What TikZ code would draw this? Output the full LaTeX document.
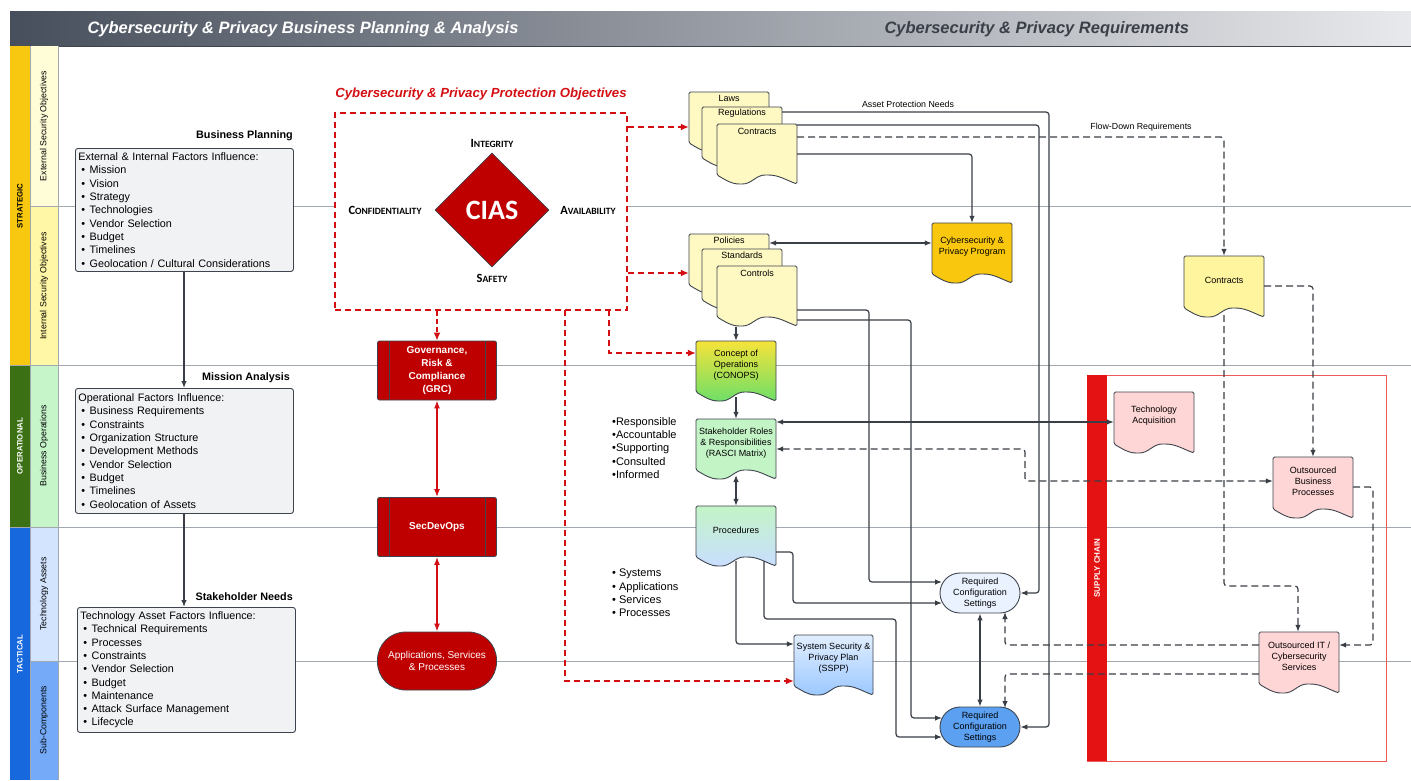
\documentclass[tikz,border=0pt]{standalone}
\usepackage{fontspec}
\setmainfont{Liberation Sans}
\newfontfamily\hdrfont{Liberation Sans}
\newfontfamily\calfont{Carlito}
\usetikzlibrary{arrows.meta,calc,shapes.geometric}
\definecolor{hdrdark}{HTML}{474F5C}
\definecolor{hdrlight}{HTML}{E8E9EC}
\definecolor{strat}{HTML}{F7C80F}
\definecolor{extl}{HTML}{FFFCD8}
\definecolor{intl}{HTML}{FFF6A6}
\definecolor{oper}{HTML}{3C7015}
\definecolor{operl}{HTML}{C6F5CA}
\definecolor{tact}{HTML}{1668DC}
\definecolor{techl}{HTML}{D3E4FF}
\definecolor{subl}{HTML}{74AAF8}
\definecolor{hline}{HTML}{A2A8B0}
\definecolor{dline}{HTML}{3E444E}
\definecolor{connc}{HTML}{3A3F47}
\definecolor{cred}{HTML}{D40F14}
\definecolor{ciasred}{HTML}{BF0000}
\definecolor{boxfill}{HTML}{F1F2F4}
\definecolor{docyel}{HTML}{FEF8C2}
\definecolor{docyel2}{HTML}{FFF59E}
\definecolor{progyel}{HTML}{F9C80E}
\definecolor{docpink}{HTML}{FFD6D6}
\definecolor{stkgreen}{HTML}{C3F4C6}
\definecolor{conyel}{HTML}{F6E33A}
\definecolor{congreen}{HTML}{6EDF68}
\definecolor{procblue}{HTML}{C9DEFF}
\definecolor{ssptop}{HTML}{E1EEFF}
\definecolor{sspbot}{HTML}{9CC8FF}
\definecolor{rcsa}{HTML}{EBF2FF}
\definecolor{rcsb}{HTML}{5CA0F1}
\definecolor{scred}{HTML}{E41212}
\definecolor{scline}{HTML}{EC5A5A}
\definecolor{hdrtxt}{HTML}{3A3F48}
\newcommand\bl{\hspace*{3pt}\textbullet\hspace{4.5pt}}
\newcommand\fsc[2]{{\fontsize{12.5}{14}\selectfont #1}{\fontsize{9.6}{14}\selectfont #2}}
% name, x, y, w, h, fill options, text dy, text
\newcommand\docshape[8]{%
  \path[docline,#6] (#2,{#3+#5-9}) -- (#2,#3) -- ({#2+#4},#3) -- ({#2+#4},{#3+#5})
     to[out=160,in=0] ({#2+0.62*#4},{#3+#5-9})
     to[out=180,in=0] ({#2+0.3*#4},{#3+#5})
     to[out=180,in=-30] cycle;
  \node[inner sep=0, minimum width=#4pt, minimum height=#5pt] (#1) at ({#2+#4/2},{#3+#5/2}) {};
  \node[doctext] (#1-t) at ({#2+#4/2},{#3+#7}) {#8};
}
\begin{document}
\begin{tikzpicture}[x=1pt,y=-1pt,
  hl/.style={draw=hline, line width=1},
  conn/.style={draw=connc, line width=1.2, rounded corners=3, -{Latex[length=7pt,width=5.5pt]}},
  biconn/.style={conn, {Latex[length=7pt,width=5.5pt]}-{Latex[length=7pt,width=5.5pt]}},
  dconn/.style={conn, dash pattern=on 7pt off 4pt},
  bidconn/.style={biconn, dash pattern=on 7pt off 4pt},
  rconn/.style={draw=cred, line width=1.9, dash pattern=on 6pt off 4pt, -{Latex[length=8pt,width=7pt]}},
  rbi/.style={draw=cred, line width=1.5, {Latex[length=8pt,width=6pt]}-{Latex[length=8pt,width=6pt]}},
  docline/.style={draw=dline, line width=0.9, rounded corners=1.5},
  doctext/.style={font=\fontsize{9}{10.8}\selectfont, align=center, inner sep=0},
  factor/.style={draw=dline, fill=boxfill, rounded corners=2.5, line width=0.9, align=left, inner sep=3pt, font=\fontsize{10.8}{13.3}\selectfont},
  blabel/.style={font=\bfseries\fontsize{10.8}{12}\selectfont, anchor=east, inner sep=0},
  proc/.style={draw=dline, fill=ciasred, rounded corners=2, minimum width=119pt, minimum height=59pt, text=white, align=center, font=\bfseries\fontsize{10}{12.8}\selectfont, line width=0.8},
  side/.style={rotate=90, font=\fontsize{8.8}{10}\selectfont},
  sideb/.style={rotate=90, font=\bfseries\fontsize{7.8}{9}\selectfont},
  lbl/.style={font=\fontsize{8.8}{10}\selectfont, inner sep=0},
  stad/.style={draw=dline, line width=0.9, rounded corners=20pt, minimum width=80pt, minimum height=40pt, doctext}
]
\useasboundingbox (0,0) rectangle (1411,780);
\fill[white] (0,0) rectangle (1411,780);
% header
\shade[left color=hdrdark, right color=hdrlight] (10,11) rectangle (1411,46);
\draw[dline, line width=1] (10,46) -- (1411,46);
\node[anchor=west, text=white, font=\hdrfont\bfseries\itshape\fontsize{16.5}{18}\selectfont] (h1) at (84,29) {Cybersecurity \& Privacy Business Planning \& Analysis};
\node[anchor=west, text=hdrtxt, font=\hdrfont\bfseries\itshape\fontsize{16.5}{18}\selectfont] (h2) at (881,29) {Cybersecurity \& Privacy Requirements};
% side columns
\fill[strat] (10,46) rectangle (30,365);
\fill[extl] (30,46) rectangle (58,206);
\fill[intl] (30,206) rectangle (58,365);
\fill[oper] (10,365) rectangle (30,527);
\fill[operl] (30,365) rectangle (58,527);
\fill[tact] (10,527) rectangle (30,780);
\fill[techl] (30,527) rectangle (58,661);
\fill[subl] (30,661) rectangle (58,780);
\draw[hline, line width=0.7] (30,46) -- (30,780) (58,46) -- (58,780) (30,206) -- (58,206) (10,365) -- (58,365) (10,527) -- (58,527) (30,661) -- (58,661);
\node[sideb] at (20,206) {STRATEGIC};
\node[sideb, text=white] at (20,446) {OPERATIONAL};
\node[sideb, text=white] at (20,654) {TACTICAL};
\node[side] at (44,126) {External Security Objectives};
\node[side] at (44,286) {Internal Security Objectives};
\node[side] at (44,446) {Business Operations};
\node[side] at (44,594) {Technology Assets};
\node[side] at (44,720) {Sub-Components};
% lane lines
\foreach \yy in {206,365,527,661} \draw[hl] (58,\yy) -- (1411,\yy);
% supply chain
\draw[scline, line width=1] (1087,375) rectangle (1386,761);
\fill[scred] (1087,375) rectangle (1107,761);
\node[rotate=90, text=white, font=\bfseries\fontsize{8}{9}\selectfont] (sc) at (1097,568) {SUPPLY CHAIN};
% left factor boxes
\node[blabel] (bpl) at (293,136) {Business Planning};
\node[factor, anchor=north west, text width=212pt, minimum height=123pt] (bp) at (75,148) {External \& Internal Factors Influence:\\ \bl Mission\\ \bl Vision\\ \bl Strategy\\ \bl Technologies\\ \bl Vendor Selection\\ \bl Budget\\ \bl Timelines\\ \bl Geolocation / Cultural Considerations};
\node[blabel] (mal) at (290,378) {Mission Analysis};
\node[factor, anchor=north west, text width=212pt, minimum height=125pt] (ma) at (75,388) {Operational Factors Influence:\\ \bl Business Requirements\\ \bl Constraints\\ \bl Organization Structure\\ \bl Development Methods\\ \bl Vendor Selection\\ \bl Budget\\ \bl Timelines\\ \bl Geolocation of Assets};
\node[blabel] (snl) at (293,597) {Stakeholder Needs};
\node[factor, anchor=north west, text width=212pt, minimum height=125pt] (sn) at (77,607) {Technology Asset Factors Influence:\\ \bl Technical Requirements\\ \bl Processes\\ \bl Constraints\\ \bl Vendor Selection\\ \bl Budget\\ \bl Maintenance\\ \bl Attack Surface Management\\ \bl Lifecycle};
\draw[conn] (bp.south -| 184,0) -- (ma.north -| 184,0);
\draw[conn] (ma.south -| 184,0) -- (sn.north -| 184,0);
% objectives
\node[text=cred, font=\bfseries\itshape\fontsize{13.2}{15}\selectfont] (objt) at (481,94) {Cybersecurity \& Privacy Protection Objectives};
\node[draw=cred, fill=white, line width=1.9, dash pattern=on 6pt off 4pt, minimum width=292pt, minimum height=197pt, inner sep=0] (obj) at (481,211.5) {};
\node[diamond, fill=ciasred, draw=dline, line width=0.6, minimum width=114pt, minimum height=114pt, inner sep=0, text=white, font=\calfont\bfseries\fontsize{28}{28}\selectfont] (cias) at (492,210) {CIAS};
\node[font=\calfont\bfseries] (ci) at (492,143) {\fsc{I}{NTEGRITY}};
\node[font=\calfont\bfseries] (cc) at (385,210) {\fsc{C}{ONFIDENTIALITY}};
\node[font=\calfont\bfseries] (ca) at (588,210) {\fsc{A}{VAILABILITY}};
\node[font=\calfont\bfseries] (cs) at (492,278) {\fsc{S}{AFETY}};
% red process boxes
\node[proc] (grc) at (437,370.5) {Governance,\\Risk \&\\Compliance\\(GRC)};
\node[proc] (sdo) at (437,527) {SecDevOps};
\foreach \n in {grc,sdo} {
  \draw[dline, line width=0.8] ($(\n.north west)+(12,0)$) -- ($(\n.south west)+(12,0)$);
  \draw[dline, line width=0.8] ($(\n.north east)+(-12,0)$) -- ($(\n.south east)+(-12,0)$);
}
\node[draw=dline, fill=ciasred, rounded corners=28pt, minimum width=119pt, minimum height=58pt, text=white, align=center, font=\fontsize{10}{12.8}\selectfont, line width=0.8] (apps) at (437,661) {Applications, Services\\\& Processes};
\draw[rconn, dash pattern=on 5pt off 3pt] (grc.north |- obj.south) -- (grc.north);
\draw[rbi] (grc.south) -- (sdo.north);
\draw[rbi] (sdo.south) -- (apps.north);
% documents
\docshape{laws}{689}{92}{80}{60}{fill=docyel}{6}{Laws}
\docshape{regs}{702}{107}{80}{60}{fill=docyel}{6}{Regulations}
\docshape{ctr}{717}{124}{80}{60}{fill=docyel}{7}{Contracts}
\docshape{pol}{689}{234}{80}{60}{fill=docyel}{6}{Policies}
\docshape{std}{702}{249}{80}{60}{fill=docyel}{6}{Standards}
\docshape{ctl}{717}{266}{80}{60}{fill=docyel}{7}{Controls}
\docshape{prog}{932}{223}{80}{60}{fill=progyel}{24}{Cybersecurity \&\\Privacy Program}
\docshape{conops}{696}{341}{80}{60}{top color=conyel, bottom color=congreen}{24}{Concept of\\Operations\\(CONOPS)}
\docshape{stk}{696}{419}{80}{60}{fill=stkgreen}{24}{Stakeholder Roles\\\& Responsibilities\\(RASCI Matrix)}
\docshape{proc}{696}{506}{80}{60}{top color=stkgreen, bottom color=procblue}{24}{Procedures}
\docshape{sspp}{794}{635}{79}{60}{top color=ssptop, bottom color=sspbot}{23}{System Security \&\\Privacy Plan\\(SSPP)}
\docshape{crt}{1184}{256}{80}{61}{fill=docyel2}{24}{Contracts}
\docshape{tacq}{1114}{392}{80}{61}{fill=docpink}{24}{Technology\\Acquisition}
\docshape{obp}{1273}{457}{80}{61}{fill=docpink}{24}{Outsourced\\Business\\Processes}
\docshape{oit}{1259}{632}{80}{61}{fill=docpink}{24}{Outsourced IT /\\Cybersecurity\\Services}
\node[stad, fill=rcsa] (rcsA) at (980,593) {Required\\Configuration\\Settings};
\node[stad, fill=rcsb] (rcsB) at (980,727) {Required\\Configuration\\Settings};
% bullet lists
\node[anchor=north west, align=left, inner sep=0, font=\fontsize{11}{13.3}\selectfont] (rasci) at (612,417) {\textbullet Responsible\\\textbullet Accountable\\\textbullet Supporting\\\textbullet Consulted\\\textbullet Informed};
\node[anchor=north west, align=left, inner sep=0, font=\fontsize{11}{13.3}\selectfont] (sys) at (612,569) {\textbullet\ Systems\\\textbullet\ Applications\\\textbullet\ Services\\\textbullet\ Processes};
% red dashed connectors
\draw[rconn] (obj.east |- 0,127) -- (laws.west |- 0,127);
\draw[rconn] (obj.east |- 0,273) -- (pol.west |- 0,273);
\draw[rconn] (609,310) |- (conops.west |- 0,353);
\draw[rconn] (565,310) |- (sspp.west |- 0,681);
% labels
\node[lbl] (apn) at (908,104) {Asset Protection Needs};
\node[lbl] (fdr) at (1141,127) {Flow-Down Requirements};
% solid connectors
\draw[conn] (regs.east |- 0,112) -- (1049,112) -- (1049,727) -- (rcsB.east);
\draw[conn] (ctr.east |- 0,125) -- (1039,125) -- (1039,593) -- (rcsA.east);
\draw[dconn] (ctr.east |- 0,137) -| (crt.north);
\draw[conn] (ctr.east |- 0,154) -| (prog.north);
\draw[biconn] (pol.east |- 0,243) -- (prog.west |- 0,243);
\draw[conn] (ctl.east |- 0,310) -- (869,310) -- (869,582) -- (942,582);
\draw[conn] (ctl.east |- 0,320) -- (911,320) -- (911,718) -- (942,718);
\draw[conn] (736,327) -- (conops.north);
\draw[conn] (736,397) -- (stk.north);
\draw[biconn] (736,475) -- (proc.north);
\draw[biconn] (stk.east |- 0,422) -- (tacq.west |- 0,422);
\draw[bidconn] (stk.east |- 0,449) -- (1025,449) -- (1025,481) -- (obp.west |- 0,481);
\draw[conn] (proc.east |- 0,552) -- (793,552) -- (793,603) -- (942,603);
\draw[conn] (764,561) -- (764,619) -- (896,619) -- (896,737) -- (942,737);
\draw[conn] (736,561) |- (sspp.west |- 0,644);
\draw[biconn] (rcsA.south) -- (rcsB.north);
\draw[dconn] (oit.west |- 0,645) -- (1005,645) -- (1005,612);
\draw[dconn] (oit.west |- 0,674) -- (1005,674) -- (1005,708);
\draw[dconn] (crt.east |- 0,286) -| (obp.north -| 1313,0);
\draw[dconn] (1224,315) -- (1224,586) -- (1298,586) -- (oit.north -| 1298,0);
\draw[dconn] (obp.east |- 0,487) -- (1373,487) -- (1373,645) -- (oit.east |- 0,645);
\end{tikzpicture}
\end{document}
